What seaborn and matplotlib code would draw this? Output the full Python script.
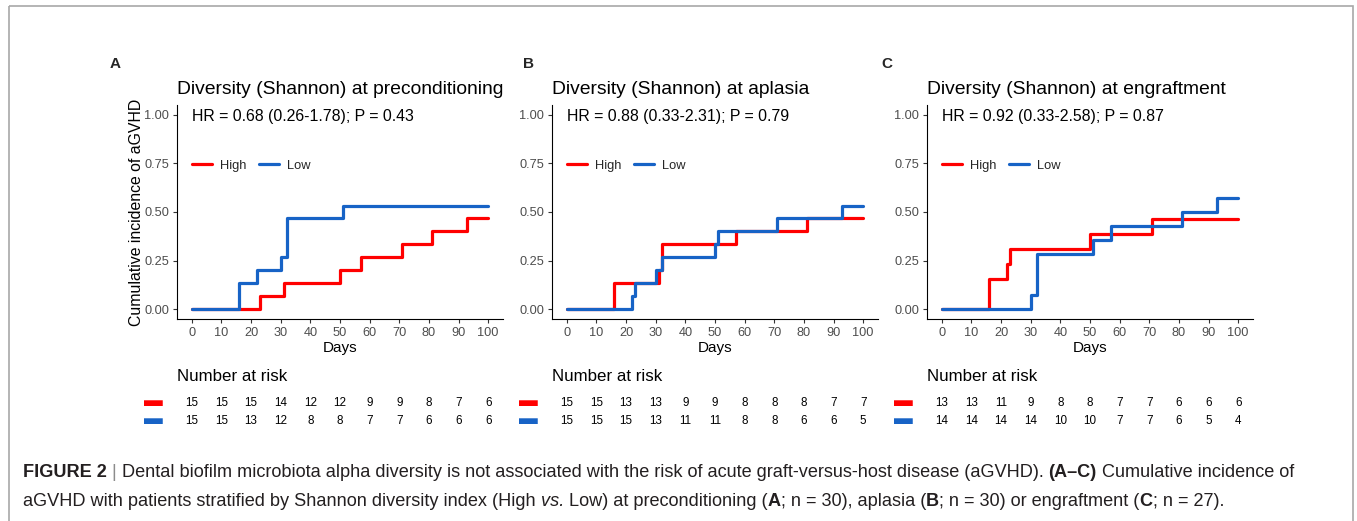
import numpy as np
import pandas as pd
import matplotlib
matplotlib.use("Agg")
import matplotlib.pyplot as plt
import matplotlib.transforms as mtrans
import seaborn as sns
from matplotlib.patches import Rectangle

# ---- data ----
groups = ["High", "Low"]
colors = {"High": "#FF0000", "Low": "#1763C6"}

panel_letters = ["A", "B", "C"]
panel_titles = ["Diversity (Shannon) at preconditioning",
                "Diversity (Shannon) at aplasia",
                "Diversity (Shannon) at engraftment"]
hr_labels = ["HR = 0.68 (0.26-1.78); P = 0.43",
             "HR = 0.88 (0.33-2.31); P = 0.79",
             "HR = 0.92 (0.33-2.58); P = 0.87"]

# cumulative incidence step curves (time, value)
times_a_high = [0, 23, 31, 50, 57, 71, 81, 93, 100]
ci_a_high = [0, 0.067, 0.133, 0.2, 0.267, 0.333, 0.4, 0.467, 0.467]
times_a_low = [0, 16, 22, 30, 32, 51, 100]
ci_a_low = [0, 0.133, 0.2, 0.267, 0.467, 0.533, 0.533]

times_b_high = [0, 16, 31, 32, 57, 81, 100]
ci_b_high = [0, 0.133, 0.2, 0.333, 0.4, 0.467, 0.467]
times_b_low = [0, 22, 23, 30, 32, 50, 51, 71, 93, 100]
ci_b_low = [0, 0.067, 0.133, 0.2, 0.267, 0.333, 0.4, 0.467, 0.533, 0.533]

times_c_high = [0, 16, 22, 23, 50, 71, 100]
ci_c_high = [0, 0.154, 0.231, 0.308, 0.385, 0.462, 0.462]
times_c_low = [0, 30, 32, 51, 57, 81, 93, 100]
ci_c_low = [0, 0.071, 0.286, 0.357, 0.429, 0.5, 0.571, 0.571]

# number at risk
risk_times = [0, 10, 20, 30, 40, 50, 60, 70, 80, 90, 100]
risk_a_high = [15, 15, 15, 14, 12, 12, 9, 9, 8, 7, 6]
risk_a_low = [15, 15, 13, 12, 8, 8, 7, 7, 6, 6, 6]
risk_b_high = [15, 15, 13, 13, 9, 9, 8, 8, 8, 7, 7]
risk_b_low = [15, 15, 15, 13, 11, 11, 8, 8, 6, 6, 5]
risk_c_high = [13, 13, 11, 9, 8, 8, 7, 7, 6, 6, 6]
risk_c_low = [14, 14, 14, 14, 10, 10, 7, 7, 6, 5, 4]

y_ticks = [0, 0.25, 0.5, 0.75, 1.0]
y_tick_labels = ["0.00", "0.25", "0.50", "0.75", "1.00"]

curves = [
    {"High": (times_a_high, ci_a_high), "Low": (times_a_low, ci_a_low)},
    {"High": (times_b_high, ci_b_high), "Low": (times_b_low, ci_b_low)},
    {"High": (times_c_high, ci_c_high), "Low": (times_c_low, ci_c_low)},
]
risks = [
    {"High": risk_a_high, "Low": risk_a_low},
    {"High": risk_b_high, "Low": risk_b_low},
    {"High": risk_c_high, "Low": risk_c_low},
]

caption_line1 = [("FIGURE 2", "bold", "normal", "#231F20"),
                 (" | ", "normal", "normal", "#8C8C8C"),
                 ("Dental biofilm microbiota alpha diversity is not associated with the risk of "
                  "acute graft-versus-host disease (aGVHD). ", "normal", "normal", "#231F20"),
                 ("(A–C)", "bold", "normal", "#231F20"),
                 (" Cumulative incidence of", "normal", "normal", "#231F20")]
caption_line2 = [("aGVHD with patients stratified by Shannon diversity index (High ", "normal", "normal", "#231F20"),
                 ("vs.", "normal", "italic", "#231F20"),
                 (" Low) at preconditioning (", "normal", "normal", "#231F20"),
                 ("A", "bold", "normal", "#231F20"),
                 ("; n = 30), aplasia (", "normal", "normal", "#231F20"),
                 ("B", "bold", "normal", "#231F20"),
                 ("; n = 30) or engraftment (", "normal", "normal", "#231F20"),
                 ("C", "bold", "normal", "#231F20"),
                 ("; n = 27).", "normal", "normal", "#231F20")]

# ---- style ----
sns.set_theme(style="ticks")
plt.rcParams["font.family"] = ["Liberation Sans", "DejaVu Sans"]
plt.rcParams["axes.linewidth"] = 0.8

W, H = 1357, 521
fig = plt.figure(figsize=(W / 100, H / 100), dpi=100)
fig.patch.set_facecolor("white")


def px_axes(left, top, right, bottom):
    return fig.add_axes([left / W, 1 - bottom / H, (right - left) / W, (bottom - top) / H])


axes_left = [177, 552, 927]
letter_x = [115, 528, 887]

for i in range(3):
    l = axes_left[i]
    ax = px_axes(l, 105, l + 326, 319)
    rows = []
    for g in groups:
        t, v = curves[i][g]
        rows.append(pd.DataFrame({"time": t, "ci": v, "group": g}))
    df = pd.concat(rows, ignore_index=True)
    sns.lineplot(data=df, x="time", y="ci", hue="group", palette=colors,
                 estimator=None, sort=False, drawstyle="steps-post",
                 linewidth=2.3, ax=ax, legend=True)
    ax.set_xlim(-5, 105)
    ax.set_ylim(-0.05, 1.05)
    ax.set_xticks(risk_times)
    ax.set_yticks(y_ticks)
    ax.set_yticklabels(y_tick_labels)
    ax.tick_params(axis="both", labelsize=9.2, labelcolor="#4D4D4D", color="#333333",
                   length=3, width=0.8, pad=2.5)
    for s in ["top", "right"]:
        ax.spines[s].set_visible(False)
    ax.spines["left"].set_color("black")
    ax.spines["bottom"].set_color("black")
    ax.set_xlabel("Days", fontsize=11, color="black", labelpad=2)
    if i == 0:
        ax.set_ylabel("Cumulative incidence of aGVHD", fontsize=11.4, color="black")
        ax.yaxis.set_label_coords(-0.1, 0.5)
    else:
        ax.set_ylabel("")
    ax.set_title(panel_titles[i], loc="left", fontsize=13.9, pad=8, color="black")
    ax.text(0.046, 0.944, hr_labels[i], transform=ax.transAxes, fontsize=11.4,
            va="center", ha="left", color="black")
    handles, labels = ax.get_legend_handles_labels()
    ax.legend(handles, labels, loc="center left", bbox_to_anchor=(0.046, 0.715),
              ncol=2, frameon=False, fontsize=9.3, handlelength=1.55, handletextpad=0.62,
              columnspacing=1.0, borderpad=0, borderaxespad=0)
    for ln in ax.get_legend().get_lines():
        ln.set_linewidth(2.3)

    fig.text(letter_x[i] / W, 1 - 64 / H, panel_letters[i], fontsize=11,
             fontweight="bold", ha="center", va="center")

    # risk table
    rax = px_axes(l, 394, l + 326, 430)
    rax.set_xlim(-5, 105)
    rax.set_ylim(-0.5, 1.5)
    for s in rax.spines.values():
        s.set_visible(False)
    rax.set_xticks([])
    rax.set_yticks([1, 0])
    rax.set_yticklabels(["▬", "▬"], fontsize=13.5)
    rax.tick_params(axis="y", length=0, pad=10)
    shift = mtrans.ScaledTranslation(0, 4 / 100, fig.dpi_scale_trans)
    for lab, g in zip(rax.get_yticklabels(), groups):
        lab.set_color(colors[g])
        lab.set_transform(lab.get_transform() + shift)
    for row, g in zip([1, 0], groups):
        for t, n in zip(risk_times, risks[i][g]):
            rax.text(t, row, str(n), ha="center", va="center", fontsize=8.4, color="black")
    rax.set_title("Number at risk", loc="left", fontsize=12.2, pad=9.4, color="black")

# caption
cap = fig.add_axes([0, 0, 1, 1])
cap.axis("off")
cap.set_xlim(0, W)
cap.set_ylim(H, 0)


def draw_runs(x, y, runs, size=13.1):
    txt, weight, style, col = runs[0]
    t = cap.text(x, y, txt, fontsize=size, fontweight=weight, fontstyle=style,
                 color=col, va="baseline", ha="left")
    for txt, weight, style, col in runs[1:]:
        t = cap.annotate(txt, xy=(1, 0), xycoords=t, va="bottom", ha="left",
                         fontsize=size, fontweight=weight, fontstyle=style, color=col)


draw_runs(23, 477, caption_line1)
draw_runs(23, 506, caption_line2)

cap.add_patch(Rectangle((9, 6), 1344, 520, fill=False, edgecolor="#A8A8A8", linewidth=1.2))

fig.savefig("out.png", dpi=100, facecolor="white")
